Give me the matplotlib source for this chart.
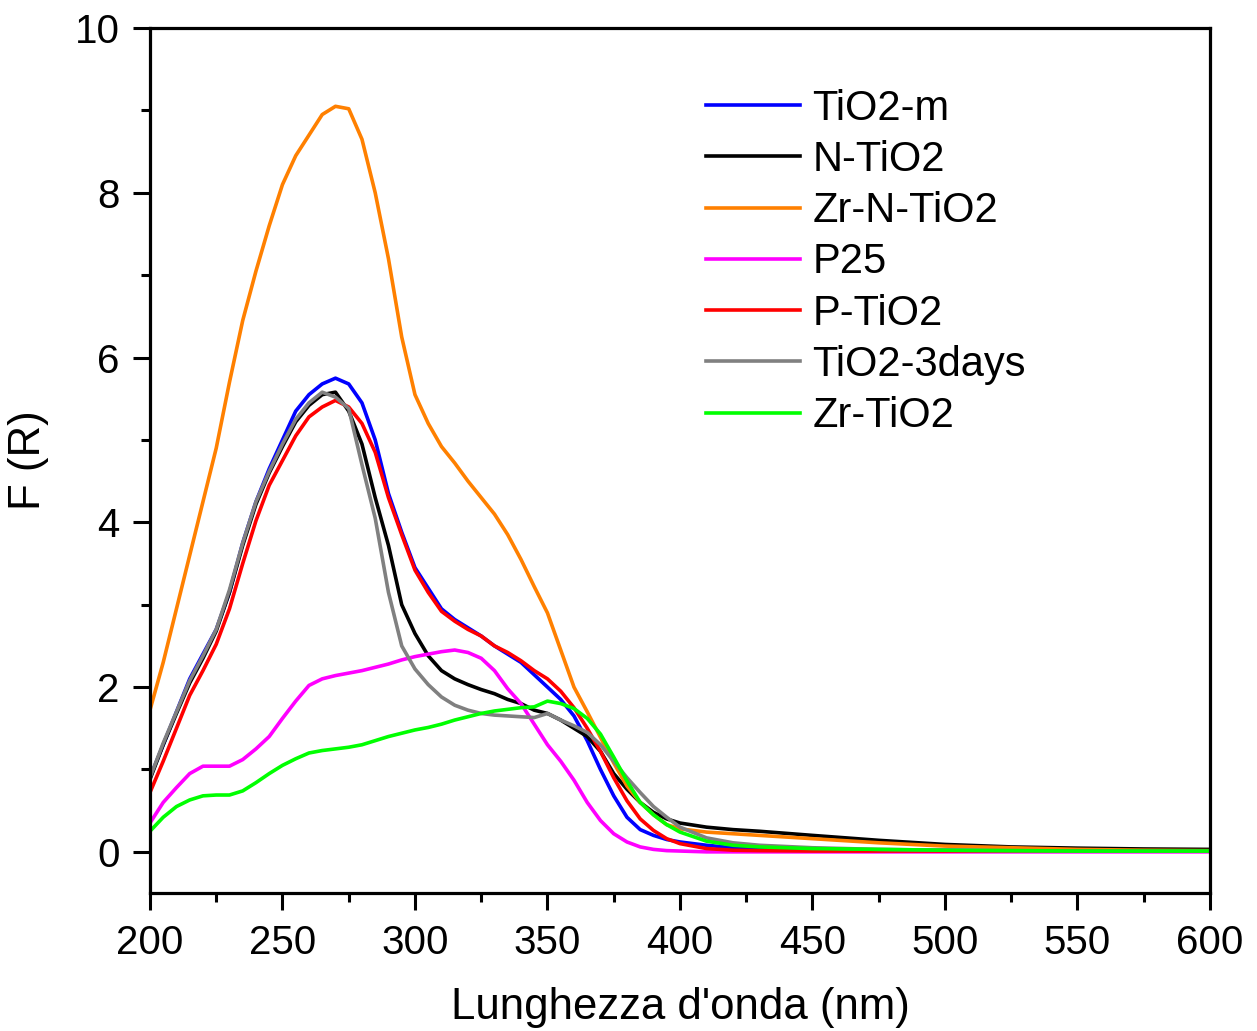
import matplotlib
matplotlib.use("Agg")
import matplotlib.pyplot as plt
from matplotlib.ticker import MultipleLocator

plt.rcParams["font.family"] = ["Liberation Sans", "DejaVu Sans"]

# Wavelength grid (nm)
wavelength = [200, 205, 210, 215, 220, 225, 230, 235, 240, 245, 250, 255, 260, 265,
              270, 275, 280, 285, 290, 295, 300, 305, 310, 315, 320, 325, 330, 335,
              340, 345, 350, 355, 360, 365, 370, 375, 380, 385, 390, 395, 400, 410,
              420, 430, 450, 475, 500, 525, 550, 575, 600]

tio2_m = [0.90, 1.30, 1.70, 2.10, 2.40, 2.70, 3.15, 3.75, 4.25, 4.65, 5.00, 5.35, 5.55, 5.68,
          5.75, 5.68, 5.45, 5.00, 4.35, 3.88, 3.45, 3.20, 2.95, 2.82, 2.72, 2.62, 2.50, 2.40,
          2.30, 2.15, 2.00, 1.85, 1.65, 1.35, 1.00, 0.68, 0.42, 0.27, 0.20, 0.15, 0.12, 0.08,
          0.05, 0.04, 0.03, 0.02, 0.02, 0.015, 0.01, 0.01, 0.01]

n_tio2 = [0.88, 1.30, 1.68, 2.05, 2.35, 2.68, 3.15, 3.72, 4.22, 4.60, 4.92, 5.22, 5.42, 5.55,
          5.58, 5.35, 4.95, 4.30, 3.72, 3.00, 2.65, 2.38, 2.20, 2.10, 2.03, 1.97, 1.92, 1.85,
          1.80, 1.72, 1.68, 1.60, 1.50, 1.40, 1.22, 0.95, 0.76, 0.60, 0.48, 0.40, 0.35, 0.30,
          0.27, 0.25, 0.20, 0.14, 0.09, 0.06, 0.045, 0.035, 0.03]

zr_n_tio2 = [1.72, 2.30, 2.95, 3.60, 4.25, 4.90, 5.70, 6.45, 7.05, 7.60, 8.10, 8.45, 8.70, 8.95,
             9.05, 9.02, 8.65, 8.00, 7.20, 6.25, 5.55, 5.20, 4.92, 4.72, 4.50, 4.30, 4.10, 3.85,
             3.55, 3.22, 2.90, 2.45, 2.00, 1.70, 1.39, 1.08, 0.80, 0.60, 0.45, 0.33, 0.28, 0.24,
             0.22, 0.20, 0.16, 0.11, 0.07, 0.05, 0.03, 0.02, 0.015]

p25 = [0.35, 0.60, 0.78, 0.95, 1.04, 1.04, 1.04, 1.12, 1.25, 1.40, 1.62, 1.83, 2.02, 2.10,
       2.14, 2.17, 2.20, 2.24, 2.28, 2.33, 2.37, 2.40, 2.43, 2.45, 2.42, 2.35, 2.20, 1.98,
       1.80, 1.55, 1.30, 1.10, 0.87, 0.60, 0.38, 0.22, 0.12, 0.06, 0.03, 0.015, 0.01, 0.0,
       0.0, 0.0, 0.0, 0.0, 0.0, 0.0, 0.0, 0.0, 0.0]

p_tio2 = [0.72, 1.10, 1.50, 1.90, 2.20, 2.52, 2.95, 3.50, 4.02, 4.45, 4.75, 5.05, 5.28, 5.40,
          5.48, 5.40, 5.20, 4.85, 4.30, 3.85, 3.42, 3.15, 2.92, 2.80, 2.70, 2.62, 2.50, 2.42,
          2.32, 2.20, 2.10, 1.95, 1.75, 1.50, 1.22, 0.90, 0.62, 0.40, 0.26, 0.16, 0.10, 0.04,
          0.02, 0.015, 0.01, 0.01, 0.01, 0.01, 0.01, 0.01, 0.01]

tio2_3days = [0.90, 1.32, 1.70, 2.08, 2.38, 2.70, 3.18, 3.75, 4.25, 4.62, 4.95, 5.25, 5.45, 5.58,
              5.52, 5.38, 4.70, 4.05, 3.15, 2.50, 2.22, 2.03, 1.88, 1.78, 1.72, 1.68, 1.66, 1.65,
              1.64, 1.63, 1.68, 1.60, 1.53, 1.45, 1.30, 1.10, 0.90, 0.72, 0.55, 0.42, 0.30, 0.17,
              0.11, 0.08, 0.05, 0.03, 0.02, 0.015, 0.01, 0.01, 0.01]

zr_tio2 = [0.25, 0.42, 0.55, 0.63, 0.68, 0.69, 0.69, 0.74, 0.84, 0.95, 1.05, 1.13, 1.20, 1.23,
           1.25, 1.27, 1.30, 1.35, 1.40, 1.44, 1.48, 1.51, 1.55, 1.60, 1.64, 1.68, 1.71, 1.73,
           1.75, 1.76, 1.83, 1.80, 1.74, 1.62, 1.43, 1.15, 0.86, 0.60, 0.45, 0.33, 0.24, 0.13,
           0.08, 0.06, 0.04, 0.03, 0.02, 0.015, 0.01, 0.01, 0.01]

series = [
    ("TiO2-m", tio2_m, "#0000ff"),
    ("N-TiO2", n_tio2, "#000000"),
    ("Zr-N-TiO2", zr_n_tio2, "#ff8000"),
    ("P25", p25, "#ff00ff"),
    ("P-TiO2", p_tio2, "#ff0000"),
    ("TiO2-3days", tio2_3days, "#808080"),
    ("Zr-TiO2", zr_tio2, "#00ff00"),
]

fig = plt.figure(figsize=(12.57, 10.31), dpi=100)
ax = fig.add_axes([0.1193, 0.1338, 0.8433, 0.839])

for label, values, color in series:
    ax.plot(wavelength, values, color=color, lw=2.6, label=label)

ax.set_xlim(200, 600)
ax.set_ylim(-0.5, 10)
ax.xaxis.set_major_locator(MultipleLocator(50))
ax.xaxis.set_minor_locator(MultipleLocator(25))
ax.yaxis.set_major_locator(MultipleLocator(2))
ax.yaxis.set_minor_locator(MultipleLocator(1))

ax.tick_params(which="both", direction="out", width=2.2, top=False, right=False,
               labelsize=29)
ax.tick_params(which="major", length=12, pad=10)
ax.tick_params(which="minor", length=6.5)
for sp in ax.spines.values():
    sp.set_linewidth(2.3)

ax.set_xlabel("Lunghezza d'onda (nm)", fontsize=31.5, labelpad=18)
ax.set_ylabel("F (R)", fontsize=31.5, labelpad=18)

ax.legend(loc="upper left", bbox_to_anchor=(0.5245, 0.93), frameon=False,
          fontsize=30, handlelength=2.25, handletextpad=0.3, labelspacing=0.27,
          borderpad=0, borderaxespad=0)

fig.savefig("out.png", dpi=100)
